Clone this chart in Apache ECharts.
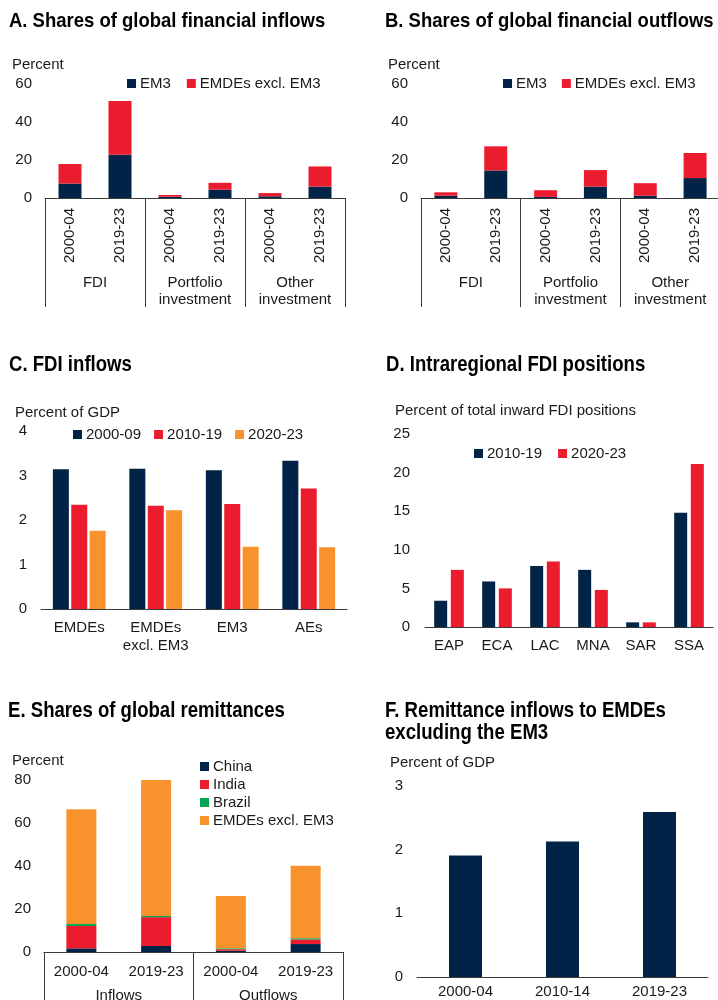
<!DOCTYPE html>
<html>
<head>
<meta charset="utf-8">
<title>Financial flows and remittances</title>
<script src="https://cdn.jsdelivr.net/npm/echarts@6/dist/echarts.min.js"></script>
<style>
  html, body { margin: 0; padding: 0; background: #fff; }
  #chart { width: 718px; height: 1000px; }
</style>
</head>
<body>
<div id="chart"></div>
<script>
// A / B. shares of global financial flows, percent
const flowPeriods = ['2000-04', '2019-23', '2000-04', '2019-23', '2000-04', '2019-23'];
const flowGroups = ['FDI', 'Portfolio\ninvestment', 'Other\ninvestment'];
const inflowEM3 = [7.6, 22.7, 0.7, 4.4, 0.9, 6.0];
const inflowRest = [10.3, 28.3, 0.9, 3.6, 1.7, 10.6];
const outflowEM3 = [1.2, 14.5, 0.6, 6.0, 1.2, 10.5];
const outflowRest = [1.8, 12.7, 3.5, 8.7, 6.6, 13.2];
const flowTicks = [0, 20, 40, 60];

// C. FDI inflows, percent of GDP
const fdiGroups = ['EMDEs', 'EMDEs\nexcl. EM3', 'EM3', 'AEs'];
const fdi0009 = [3.14, 3.15, 3.12, 3.33];
const fdi1019 = [2.34, 2.32, 2.36, 2.71];
const fdi2023 = [1.76, 2.22, 1.40, 1.39];
const fdiTicks = [0, 1, 2, 3, 4];

// D. intraregional FDI positions, percent of total inward FDI positions
const regions = ['EAP', 'ECA', 'LAC', 'MNA', 'SAR', 'SSA'];
const intra1019 = [3.4, 5.9, 7.9, 7.4, 0.6, 14.8];
const intra2023 = [7.4, 5.0, 8.5, 4.8, 0.6, 21.1];
const intraTicks = [0, 5, 10, 15, 20, 25];

// E. shares of global remittances, percent
const remitPeriods = ['2000-04', '2019-23', '2000-04', '2019-23'];
const remitGroups = ['Inflows', 'Outflows'];
const remitChina = [1.7, 2.8, 0.6, 3.7];
const remitIndia = [10.4, 13.4, 0.7, 2.1];
const remitBrazil = [0.9, 0.6, 0.4, 0.6];
const remitRest = [53.4, 63.5, 24.4, 33.7];
const remitTicks = [0, 20, 40, 60, 80];

// F. remittance inflows to EMDEs excl. EM3, percent of GDP
const emdePeriods = ['2000-04', '2010-14', '2019-23'];
const emdeRemit = [1.91, 2.13, 2.59];
const emdeTicks = [0, 1, 2, 3];

const NAVY = '#002347';
const RED = '#EB1C2D';
const ORANGE = '#F7922D';
const GREEN = '#00A651';

const FONT = "'Liberation Sans', Arial, sans-serif";
const txt = { fontFamily: FONT, fontSize: 15, color: '#1a1a1a' };
const lineCol = '#3a3a3a';

// panel headings are a squeezed bold face, so draw them as scaled graphic text
function heading(text, x, y, size, squeeze) {
  return {
    type: 'text', x: x, y: y, scaleX: squeeze, scaleY: 1, silent: true,
    style: {
      text: text, fill: '#000', fontFamily: FONT, fontWeight: 'bold',
      fontSize: size, lineHeight: 22, verticalAlign: 'top', align: 'left'
    }
  };
}
function unitTitle(text, left, top) {
  return { text: text, left: left, top: top, padding: 0, textStyle: Object.assign({ fontWeight: 'normal' }, txt) };
}

function valueAxis(grid, ticks, margin) {
  return {
    type: 'value', gridIndex: grid,
    min: ticks[0], max: ticks[ticks.length - 1], interval: ticks[1] - ticks[0],
    axisLine: { show: false }, axisTick: { show: false }, splitLine: { show: false },
    axisLabel: Object.assign({ margin: margin }, txt)
  };
}
function catAxis(grid, data, label) {
  return {
    type: 'category', gridIndex: grid, data: data, position: 'bottom',
    axisLine: { show: true, lineStyle: { color: lineCol, width: 1 } },
    axisTick: { show: false },
    axisLabel: Object.assign({ interval: 0, lineHeight: 18 }, txt, label)
  };
}
// second axis only used for the group names and the separators
function groupAxis(grid, data, tickLen, margin) {
  return {
    type: 'category', gridIndex: grid, data: data, position: 'bottom',
    axisLine: { show: false },
    axisTick: { show: true, interval: 0, length: tickLen, lineStyle: { color: lineCol, width: 1 } },
    axisLabel: Object.assign({ interval: 0, margin: margin, lineHeight: 17 }, txt)
  };
}
function bar(name, xi, yi, data, color, width, extra) {
  return Object.assign({
    type: 'bar', name: name, xAxisIndex: xi, yAxisIndex: yi, data: data,
    barWidth: width, itemStyle: { color: color }, silent: true
  }, extra || {});
}
function legend(items, left, top, gap, orient) {
  return {
    left: left, top: top, orient: orient || 'horizontal', padding: 0,
    itemGap: gap, itemWidth: 9, itemHeight: 9, icon: 'rect', selectedMode: false,
    textStyle: Object.assign({ padding: [0, 0, 0, -1] }, txt),
    data: items.map(function (d) { return { name: d[0], itemStyle: { color: d[1] } }; })
  };
}

const chart = echarts.init(document.getElementById('chart'));
chart.setOption({
  animation: false,
  backgroundColor: '#fff',
  graphic: [
    heading('A. Shares of global financial inflows', 9, 10, 21, 0.88),
    heading('B. Shares of global financial outflows', 385, 10, 21, 0.88),
    heading('C. FDI inflows', 9, 354, 22, 0.845),
    heading('D. Intraregional FDI positions', 386, 354, 22, 0.845),
    heading('E. Shares of global remittances', 8, 700, 22, 0.845),
    heading('F. Remittance inflows to EMDEs\nexcluding the EM3', 385, 700, 22, 0.845)
  ],
  title: [
    unitTitle('Percent', 12, 57),
    unitTitle('Percent', 388, 57),
    unitTitle('Percent of GDP', 15, 405),
    unitTitle('Percent of total inward FDI positions', 395, 403),
    unitTitle('Percent', 12, 753),
    unitTitle('Percent of GDP', 390, 755)
  ],
  legend: [
    legend([['EM3', NAVY], ['EMDEs excl. EM3', RED]], 127, 76, 16),
    legend([['EM3', NAVY], ['EMDEs excl. EM3', RED]], 503, 76, 15),
    legend([['2000-09', NAVY], ['2010-19', RED], ['2020-23', ORANGE]], 73, 427, 13),
    legend([['2010-19', NAVY], ['2020-23', RED]], 474, 446, 16),
    legend([['China', NAVY], ['India', RED], ['Brazil', GREEN], ['EMDEs excl. EM3', ORANGE]], 200, 759, 3, 'vertical')
  ],
  grid: [
    { left: 45, top: 84, width: 300, height: 114, outerBoundsMode: 'none' },
    { left: 421, top: 84, width: 299, height: 114, outerBoundsMode: 'none' },
    { left: 41, top: 431, width: 306, height: 178, outerBoundsMode: 'none' },
    { left: 425, top: 434, width: 288, height: 193, outerBoundsMode: 'none' },
    { left: 44, top: 780, width: 299, height: 172, outerBoundsMode: 'none' },
    { left: 417, top: 786, width: 291, height: 191, outerBoundsMode: 'none' }
  ],
  xAxis: [
    catAxis(0, flowPeriods, { rotate: 90, margin: 10 }),
    groupAxis(0, flowGroups, 109, 76),
    catAxis(1, flowPeriods, { rotate: 90, margin: 10 }),
    groupAxis(1, flowGroups, 109, 76),
    catAxis(2, fdiGroups, { margin: 10 }),
    catAxis(3, regions, { margin: 10 }),
    catAxis(4, remitPeriods, { margin: 11 }),
    groupAxis(4, remitGroups, 50, 35),
    catAxis(5, emdePeriods, { margin: 6 })
  ],
  yAxis: [
    valueAxis(0, flowTicks, 13),
    valueAxis(1, flowTicks, 13),
    valueAxis(2, fdiTicks, 14),
    valueAxis(3, intraTicks, 15),
    valueAxis(4, remitTicks, 13),
    valueAxis(5, emdeTicks, 14)
  ],
  series: [
    // A
    bar('EM3', 0, 0, inflowEM3, NAVY, 23, { stack: 'inflows' }),
    bar('EMDEs excl. EM3', 0, 0, inflowRest, RED, 23, { stack: 'inflows' }),
    // B
    bar('EM3', 2, 1, outflowEM3, NAVY, 23, { stack: 'outflows' }),
    bar('EMDEs excl. EM3', 2, 1, outflowRest, RED, 23, { stack: 'outflows' }),
    // C
    bar('2000-09', 4, 2, fdi0009, NAVY, 16, { barGap: '15%' }),
    bar('2010-19', 4, 2, fdi1019, RED, 16, { barGap: '15%' }),
    bar('2020-23', 4, 2, fdi2023, ORANGE, 16, { barGap: '15%' }),
    // D
    bar('2010-19', 5, 3, intra1019, NAVY, 13, { barGap: '28%' }),
    bar('2020-23', 5, 3, intra2023, RED, 13, { barGap: '28%' }),
    // E
    bar('China', 6, 4, remitChina, NAVY, 30, { stack: 'remit' }),
    bar('India', 6, 4, remitIndia, RED, 30, { stack: 'remit' }),
    bar('Brazil', 6, 4, remitBrazil, GREEN, 30, { stack: 'remit' }),
    bar('EMDEs excl. EM3', 6, 4, remitRest, ORANGE, 30, { stack: 'remit' }),
    // F
    bar('Remittance inflows', 8, 5, emdeRemit, NAVY, 33)
  ]
});
</script>
</body>
</html>
